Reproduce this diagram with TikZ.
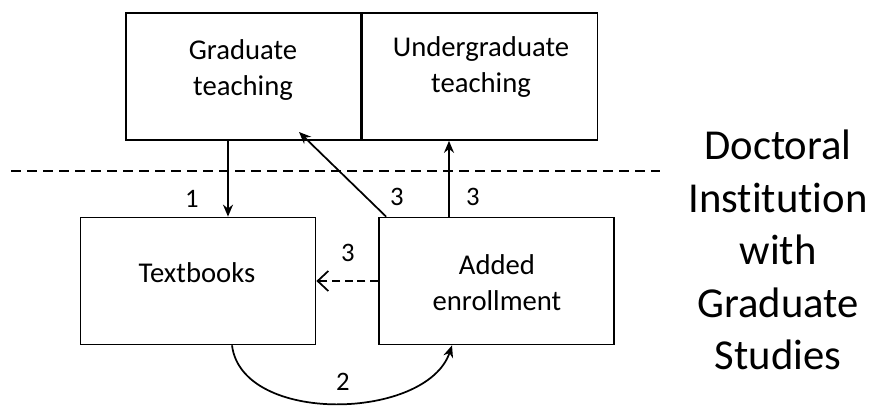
\documentclass[tikz,border=0pt]{standalone}
\usepackage{fontspec}
\setmainfont{Carlito}[Ligatures=NoCommon]
\usetikzlibrary{arrows.meta, positioning, calc}

\begin{document}
\begin{tikzpicture}[x=0.75pt, y=-0.75pt, line join=miter,
    box/.style={draw, line width=1.3pt, minimum width=176.25pt,
      minimum height=95.25pt, inner sep=0pt},
    txt/.style={align=center, inner sep=0pt,
      font=\fontsize{21.5}{27}\selectfont},
    num/.style={inner sep=0pt, font=\fontsize{20}{24}\selectfont},
    wire/.style={line width=1.3pt},
    >={Stealth[length=9pt, width=7.5pt]}]
  \useasboundingbox (0,0) rectangle (881,409);
  % ================= boxes =================
  \node[box] (grad) at (243.5,76.5) {};
  \node[box] (ugrad) at (480,76.5) {};
  \node[box] (tbook) at (198,281) {};
  \node[box] (enroll) at (496.5,281) {};
  \node[txt] (gradtxt) at (243,70) {Graduate\\teaching};
  \node[txt] (ugradtxt) at (481,67) {Undergraduate\\teaching};
  \node[txt] (tbooktxt) at (197,273) {Textbooks};
  \node[txt] (enrolltxt) at (497,283) {Added\\enrollment};
  % ================= boundary =================
  \coordinate (bl) at (11,171);
  \coordinate (br) at (660,171);
  \draw[line width=1.1pt, dash pattern=on 7.5pt off 4.5pt] (bl) -- (br);
  \node[align=center, inner sep=0pt, font=\fontsize{32}{39.4}\selectfont]
    (inst) at (778,250) {Doctoral\\Institution\\with\\Graduate\\Studies};
  % ================= flows =================
  \coordinate (x1) at (228,0);
  \coordinate (x3) at (449,0);
  \coordinate (tip3) at (299,132);
  \draw[wire, ->] (grad.south -| x1) -- (tbook.north -| x1);
  \node[num] (n1) at (192,199) {1};
  \draw[wire, ->] ($(enroll.north west)+(8,0)$) -- (tip3);
  \node[num] (n3a) at (397,197) {3};
  \draw[wire, ->] (enroll.north -| x3) -- (ugrad.south -| x3);
  \node[num] (n3b) at (473,197) {3};
  \draw[wire, dashed, dash pattern=on 6pt off 3.5pt,
    -{Straight Barb[length=8pt, width=15pt]}] (enroll.west) -- (tbook.east);
  \node[num] (n3c) at (348,253) {3};
  % curved flow below
  \coordinate (x4) at (232,0);
  \coordinate (x5) at (452,0);
  \draw[wire, ->] (tbook.south -| x4) .. controls +(10,80) and +(-25,75)
    .. (enroll.south -| x5);
  \node[num] (n2) at (343,382) {2};
\end{tikzpicture}
\end{document}
